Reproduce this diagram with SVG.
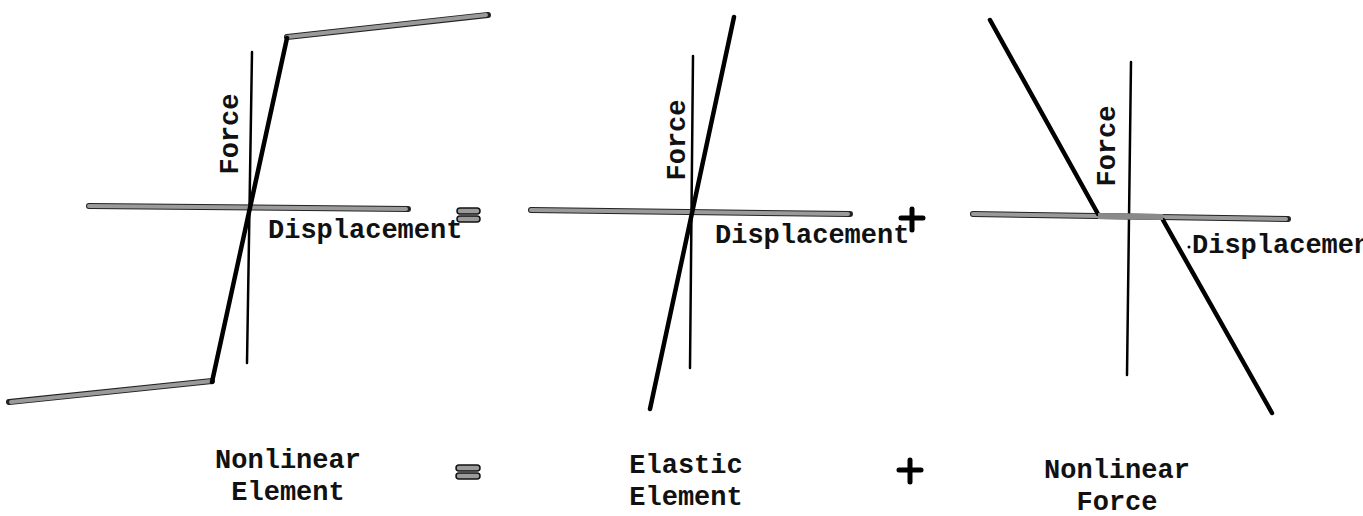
<svg xmlns="http://www.w3.org/2000/svg" width="1363" height="516" viewBox="0 0 1363 516">
<style>
.bg{fill:#fff}
.ax{stroke:#000;stroke-width:2.5;stroke-linecap:round;fill:none}
.blk{stroke:#000;stroke-width:4.5;stroke-linecap:round;fill:none}
.gedge{stroke:#222;stroke-width:6;stroke-linecap:round;fill:none}
.gfill{stroke:#9a9a9a;stroke-width:4;stroke-linecap:round;fill:none}
text{font-family:"Liberation Mono","Courier New",monospace;font-size:27px;font-weight:bold;fill:#111}
.op{fill:#9a9a9a;stroke:#111;stroke-width:1.5}
</style>
<rect class="bg" x="0" y="0" width="1363" height="516"/>
<g id="connectors">
  <!-- panel 1 -->
  <line class="ax" x1="252" y1="52" x2="247" y2="363"/>
  <line class="gedge" x1="89" y1="206" x2="408" y2="209"/>
  <line class="gfill" x1="89" y1="206" x2="406" y2="209"/>
  <polyline class="gedge" points="287,37 488,15"/>
  <polyline class="gfill" points="287,37 486,15"/>
  <polyline class="gedge" points="212,381 9,402"/>
  <polyline class="gfill" points="212,381 11,402"/>
  <line class="blk" x1="287" y1="38" x2="212" y2="382"/>
  <!-- panel 2 -->
  <line class="ax" x1="693" y1="56" x2="690" y2="368"/>
  <line class="gedge" x1="531" y1="210" x2="850" y2="214"/>
  <line class="gfill" x1="531" y1="210" x2="848" y2="214"/>
  <line class="blk" x1="734" y1="17" x2="650" y2="409"/>
  <!-- panel 3 -->
  <line class="ax" x1="1131" y1="62" x2="1127" y2="375"/>
  <line class="gedge" x1="973" y1="214" x2="1288" y2="219"/>
  <line class="gfill" x1="973" y1="214" x2="1286" y2="219"/>
  <line class="blk" x1="990" y1="20" x2="1098" y2="214"/>
  <line class="blk" x1="1163" y1="220" x2="1272" y2="413"/>
  <line stroke="#8a8a8a" stroke-width="6" x1="1098" y1="216" x2="1163" y2="217"/>
</g>
<g id="panel1">
  <text transform="translate(238,134) rotate(-90)" text-anchor="middle">Force</text>
  <text x="268" y="238">Displacement</text>
  <text x="288" y="468" text-anchor="middle">Nonlinear</text>
  <text x="288" y="500" text-anchor="middle">Element</text>
</g>
<g id="equals-top">
  <rect class="op" x="457" y="208" width="23" height="6" rx="3"/>
  <rect class="op" x="457" y="216" width="23" height="6" rx="3"/>
</g>
<g id="equals-bottom">
  <rect class="op" x="456" y="465" width="24" height="6" rx="3"/>
  <rect class="op" x="456" y="473" width="24" height="6" rx="3"/>
</g>
<g id="panel2">
  <text transform="translate(685,140) rotate(-90)" text-anchor="middle">Force</text>
  <text x="715" y="243">Displacement</text>
  <text x="686" y="473" text-anchor="middle">Elastic</text>
  <text x="686" y="505" text-anchor="middle">Element</text>
</g>
<g id="plus-top">
  <path d="M912 209 V230 M901 218 H923" stroke="#000" stroke-width="5" stroke-linecap="round"/>
</g>
<g id="plus-bottom">
  <path d="M910 460 V482 M899 470 H921" stroke="#000" stroke-width="5" stroke-linecap="round"/>
</g>
<g id="panel3">
  <text transform="translate(1115,146) rotate(-90)" text-anchor="middle">Force</text>
  <circle cx="1189" cy="247" r="1.5" fill="#000"/>
  <text x="1192" y="253">Displacement</text>
  <text x="1117" y="478" text-anchor="middle">Nonlinear</text>
  <text x="1117" y="510" text-anchor="middle">Force</text>
</g>
</svg>
